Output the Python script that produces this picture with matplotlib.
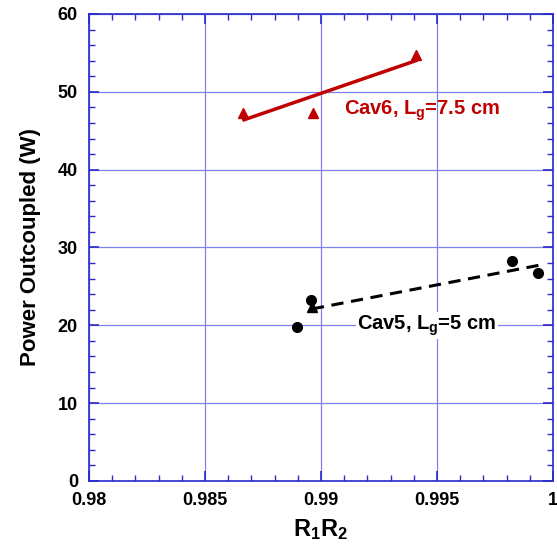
import matplotlib.pyplot as plt
from matplotlib.ticker import MultipleLocator, FormatStrFormatter, FuncFormatter

plt.rcParams['font.family'] = ['Liberation Sans', 'DejaVu Sans']
plt.rcParams['font.weight'] = 'bold'
plt.rcParams['mathtext.fontset'] = 'custom'
plt.rcParams['mathtext.rm'] = 'Liberation Sans:bold'
plt.rcParams['mathtext.it'] = 'Liberation Sans:bold'
plt.rcParams['mathtext.bf'] = 'Liberation Sans:bold'

# Cav6 data (red triangles) and its fit
cav6_x = [0.98665, 0.98964, 0.99408]
cav6_y = [47.3, 47.3, 54.75]
cav6_fit_x = [0.98668, 0.99409]
cav6_fit_y = [46.4, 54.0]

# Cav5 data (black circles) and its fit
cav5_x = [0.98897, 0.98957, 0.99822, 0.99937]
cav5_y = [19.8, 23.3, 28.2, 26.7]
cav5_tri_x = [0.98961]
cav5_tri_y = [22.4]
cav5_fit_x = [0.98961, 0.99937]
cav5_fit_y = [22.1, 27.7]

red = '#c00000'
blue = '#2a2acc'

fig = plt.figure(figsize=(5.57, 5.48), dpi=100)
ax = fig.add_axes([0.1598, 0.1223, 0.8330, 0.8522])

ax.plot(cav6_fit_x, cav6_fit_y, color=red, lw=2.5, zorder=3)
ax.plot(cav6_x, cav6_y, linestyle='none', marker='^', color=red, ms=7, zorder=4)

ax.plot(cav5_fit_x, cav5_fit_y, color='black', lw=2.2, ls=(0, (4, 2.5)), zorder=3)
ax.plot(cav5_x, cav5_y, linestyle='none', marker='o', color='black', ms=7, zorder=4)
ax.plot(cav5_tri_x, cav5_tri_y, linestyle='none', marker='^', color='black', ms=7, zorder=4)

ax.text(0.9910, 47.6, 'Cav6, L$_{g}$=7.5 cm', color=red, fontsize=14.5,
        fontweight='bold', va='center', ha='left')
ax.text(0.99155, 20.0, 'Cav5, L$_{g}$=5 cm', color='black', fontsize=14.5,
        fontweight='bold', va='center', ha='left',
        bbox=dict(facecolor='white', edgecolor='none', pad=1))

ax.set_xlim(0.98, 1.0)
ax.set_ylim(0, 60)
ax.xaxis.set_major_locator(MultipleLocator(0.005))
ax.xaxis.set_minor_locator(MultipleLocator(0.001))
ax.yaxis.set_major_locator(MultipleLocator(10))
ax.yaxis.set_minor_locator(MultipleLocator(2))
ax.xaxis.set_major_formatter(FuncFormatter(lambda v, p: '%g' % round(v, 4)))
ax.yaxis.set_major_formatter(FormatStrFormatter('%d'))

ax.grid(True, which='major', color='#8080ee', lw=0.9)
ax.set_axisbelow(True)
for s in ax.spines.values():
    s.set_color(blue)
    s.set_linewidth(1.2)
ax.tick_params(which='both', direction='in', top=True, right=True, color=blue,
               labelsize=13, pad=8)
ax.tick_params(which='major', length=7, width=1.2)
ax.tick_params(which='minor', length=4, width=1.0)
for lab in ax.get_xticklabels() + ax.get_yticklabels():
    lab.set_fontweight('bold')

ax.set_xlabel('R$_{1}$R$_{2}$', fontsize=17, fontweight='bold', labelpad=6)
ax.set_ylabel('Power Outcoupled (W)', fontsize=16, fontweight='bold', labelpad=12)

fig.savefig('out.png', dpi=100)
